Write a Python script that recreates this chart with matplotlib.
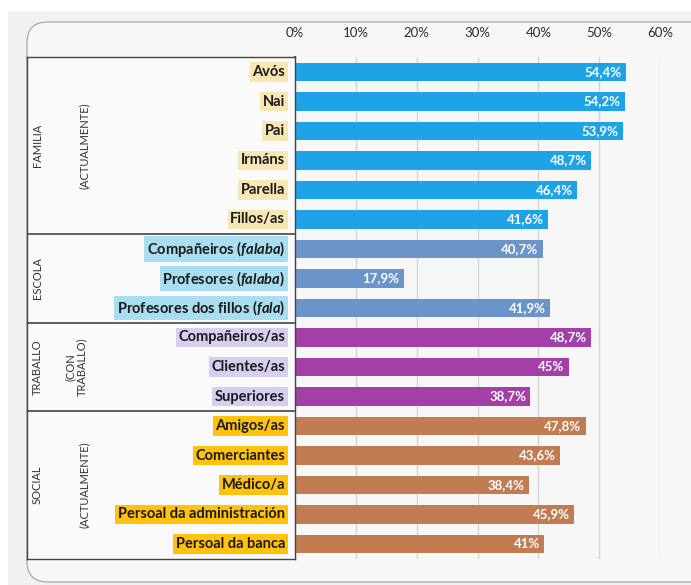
import matplotlib
matplotlib.use('Agg')
import matplotlib.pyplot as plt
from matplotlib.patches import FancyBboxPatch, Rectangle

plt.rcParams['font.family'] = ['Lato', 'DejaVu Sans']
plt.rcParams['mathtext.fontset'] = 'custom'
plt.rcParams['mathtext.it'] = 'Lato:italic:bold'
plt.rcParams['mathtext.rm'] = 'Lato:bold'

# categories, top to bottom
categories = ['Avós', 'Nai', 'Pai', 'Irmáns', 'Parella', 'Fillos/as',
              'Compañeiros ($\\mathit{falaba}$)', 'Profesores ($\\mathit{falaba}$)',
              'Profesores dos fillos ($\\mathit{fala}$)',
              'Compañeiros/as', 'Clientes/as', 'Superiores',
              'Amigos/as', 'Comerciantes', 'Médico/a',
              'Persoal da administración', 'Persoal da banca']
values = [54.4, 54.2, 53.9, 48.7, 46.4, 41.6,
          40.7, 17.9, 41.9,
          48.7, 45, 38.7,
          47.8, 43.6, 38.4, 45.9, 41]
group_sizes = [6, 3, 3, 5]
group_names = ['FAMILIA', 'ESCOLA', 'TRABALLO', 'SOCIAL']
group_notes = ['(ACTUALMENTE)', '', '(CON\nTRABALLO)', '(ACTUALMENTE)']
xticks = [0, 10, 20, 30, 40, 50, 60]

bar_colors = ['#1ea4e6', '#6b94c9', '#a43fa8', '#c27c52']
label_bg = ['#f6e7b4', '#a8def0', '#d6cdef', '#ffc20e']

W, H = 691, 585
fig = plt.figure(figsize=(W / 100, H / 100), dpi=100)
fig.patch.set_facecolor('white')

# page background and rounded frame
page = Rectangle((8 / W, 0), 1, 1 - 11 / H, transform=fig.transFigure,
                 facecolor='#f1f1f1', edgecolor='none', zorder=-6)
frame = FancyBboxPatch((27 / W, 3 / H), 700 / W, (582 - 22) / H,
                       boxstyle='round,pad=0,rounding_size=0.03',
                       mutation_aspect=W / H,
                       transform=fig.transFigure, facecolor='#f7f7f7',
                       edgecolor='#a8a8a8', linewidth=0.9, zorder=-5)
fig.patches.extend([page, frame])

n = len(categories)
top_px, bottom_px = 57.25, 558.75
bottom = 1 - bottom_px / H
height = (bottom_px - top_px) / H

ax = fig.add_axes([295 / W, bottom, (660 - 295) / W, height])
ax.set_facecolor('none')
ax.set_xlim(0, 60)
ax.set_ylim(n - 0.5, -0.5)

colors = []
bgs = []
for c, b, size in zip(bar_colors, label_bg, group_sizes):
    colors += [c] * size
    bgs += [b] * size

ypos = list(range(n))
ax.barh(ypos, values, height=0.62, color=colors, zorder=3)
for y, v in zip(ypos, values):
    txt = f'{v:g}'.replace('.', ',') + '%'
    ax.text(v - 0.7, y, txt, ha='right', va='center', color='white',
            fontsize=9.5, fontweight='bold', zorder=4)

ax.xaxis.tick_top()
ax.set_xticks(xticks)
ax.set_xticklabels([f'{t}%' for t in xticks], fontsize=9.5, color='#2a2a2a')
ax.tick_params(axis='x', length=0, pad=13)
ax.set_yticks([])
ax.grid(axis='x', color='#d4d4d4', linewidth=1.0, zorder=1)
for s in ['top', 'right', 'bottom']:
    ax.spines[s].set_visible(False)
ax.spines['left'].set_color('#222222')
ax.spines['left'].set_linewidth(1.2)

# left panel with group names and category labels
lx = fig.add_axes([27 / W, bottom, (295 - 27) / W, height])
lx.set_xlim(27, 295)
lx.set_ylim(n - 0.5, -0.5)
lx.set_facecolor('#fafafa')
for s in lx.spines.values():
    s.set_color('#444444')
    s.set_linewidth(1.0)
lx.set_xticks([])
lx.set_yticks([])

for y, cat, bg in zip(ypos, categories, bgs):
    lx.text(285, y, cat, ha='right', va='center', fontsize=10.5,
            fontweight='bold', color='#1a1a1a',
            bbox=dict(boxstyle='square,pad=0.18', facecolor=bg, edgecolor='none'))

start = 0
for i, (size, name, note) in enumerate(zip(group_sizes, group_names, group_notes)):
    mid = start + (size - 1) / 2
    lx.text(37, mid, name, rotation=90, ha='center', va='center',
            fontsize=8, color='#333333')
    if note:
        lx.text(84 if '\n' not in note else 76, mid, note, rotation=90,
                ha='center', va='center', fontsize=8, color='#333333',
                multialignment='center', linespacing=1.0)
    start += size
    if start < n:
        lx.axhline(start - 0.5, color='#444444', linewidth=1.2)

fig.savefig('out.png', dpi=100, facecolor='white')
